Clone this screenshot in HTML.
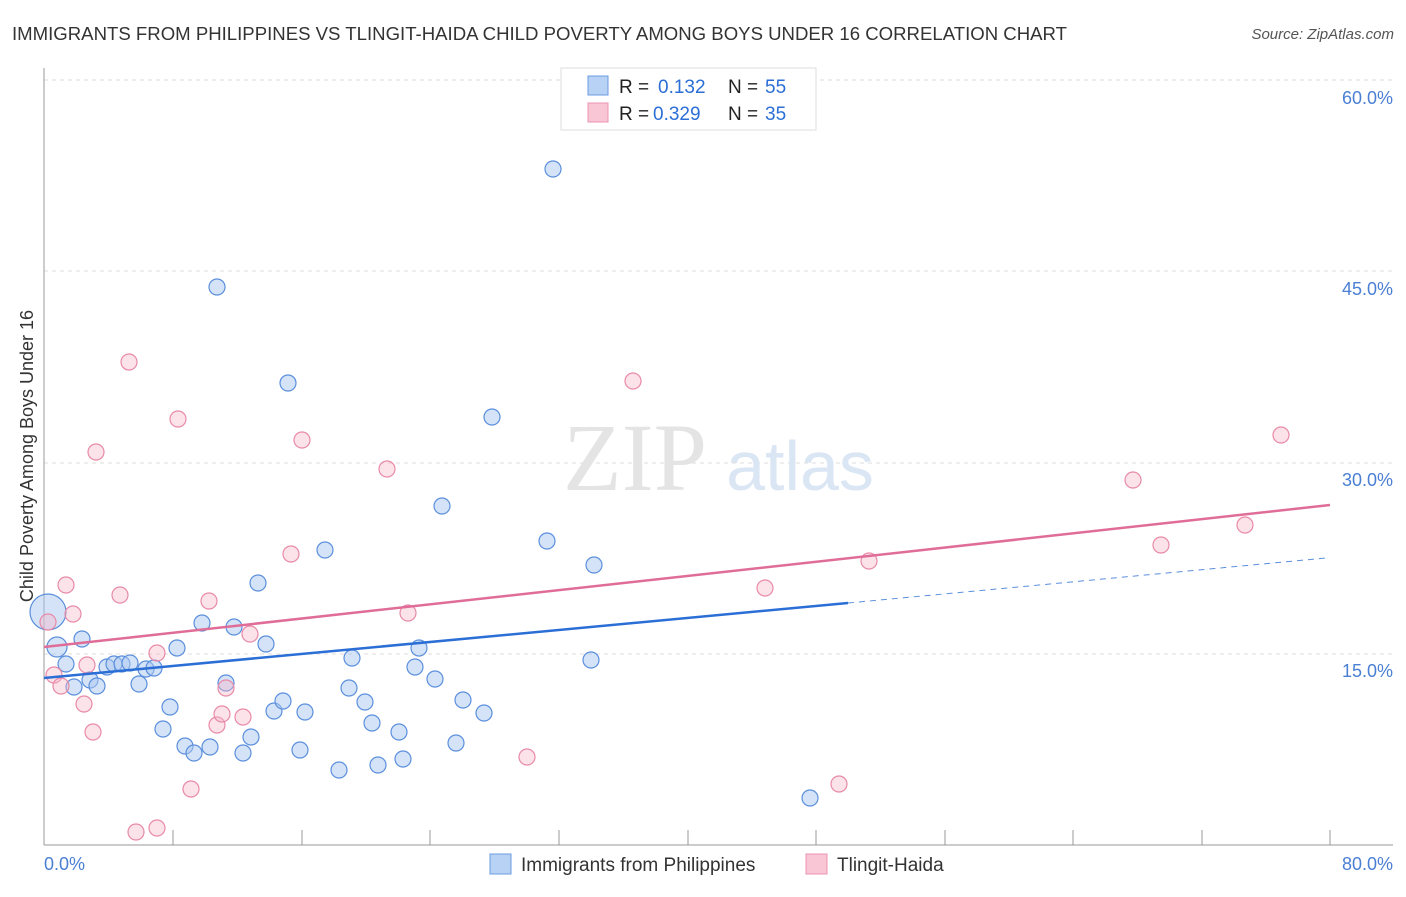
<!DOCTYPE html>
<html><head><meta charset="utf-8"><style>
body{margin:0;background:#fff;font-family:"Liberation Sans",sans-serif;}
</style></head><body>
<svg width="1406" height="892" xmlns="http://www.w3.org/2000/svg" font-family="Liberation Sans, sans-serif">
<text x="12" y="40" font-size="18" fill="#333" textLength="1055" lengthAdjust="spacingAndGlyphs">IMMIGRANTS FROM PHILIPPINES VS TLINGIT-HAIDA CHILD POVERTY AMONG BOYS UNDER 16 CORRELATION CHART</text>
<text x="1394" y="39" font-size="15" fill="#555" text-anchor="end" font-style="italic">Source: ZipAtlas.com</text>
<g stroke="#ddd" stroke-dasharray="4,4">
<line x1="44" y1="80" x2="1393" y2="80"/><line x1="44" y1="271" x2="1393" y2="271"/>
<line x1="44" y1="463" x2="1393" y2="463"/><line x1="44" y1="654" x2="1393" y2="654"/>
</g>
<line x1="44" y1="68" x2="44" y2="845" stroke="#999"/>
<line x1="44" y1="845" x2="1393" y2="845" stroke="#999"/>
<g stroke="#999">
<line x1="173" y1="830" x2="173" y2="845"/><line x1="302" y1="830" x2="302" y2="845"/><line x1="430" y1="830" x2="430" y2="845"/><line x1="559" y1="830" x2="559" y2="845"/><line x1="688" y1="830" x2="688" y2="845"/><line x1="816" y1="830" x2="816" y2="845"/><line x1="945" y1="830" x2="945" y2="845"/><line x1="1073" y1="830" x2="1073" y2="845"/><line x1="1202" y1="830" x2="1202" y2="845"/><line x1="1330" y1="830" x2="1330" y2="845"/>
</g>
<g font-size="18" fill="#4a7fd4" text-anchor="end">
<text x="1393" y="104">60.0%</text><text x="1393" y="295">45.0%</text><text x="1393" y="486">30.0%</text><text x="1393" y="677">15.0%</text>
<text x="1393" y="870">80.0%</text></g>
<text x="44" y="870" font-size="18" fill="#4a7fd4">0.0%</text>
<text transform="translate(33,456) rotate(-90)" font-size="18" fill="#333" text-anchor="middle">Child Poverty Among Boys Under 16</text>
<text x="635" y="490" font-size="96" fill="#e4e4e4" font-family="Liberation Serif, serif" text-anchor="middle">ZIP</text>
<text x="800" y="490" font-size="70" fill="#dbe6f5" text-anchor="middle">atlas</text>
<g fill="#a9c8f0" fill-opacity="0.5" stroke="#5b8fdc" stroke-width="1.2">
<circle cx="48" cy="612" r="18"/>
<circle cx="57" cy="647" r="10"/><circle cx="66" cy="664" r="8"/><circle cx="74" cy="687" r="8"/><circle cx="82" cy="639" r="8"/><circle cx="90" cy="680" r="8"/><circle cx="97" cy="686" r="8"/><circle cx="107" cy="667" r="8"/><circle cx="114" cy="664" r="8"/><circle cx="122" cy="664" r="8"/><circle cx="130" cy="663" r="8"/><circle cx="139" cy="684" r="8"/><circle cx="146" cy="669" r="8"/><circle cx="154" cy="668" r="8"/><circle cx="170" cy="707" r="8"/><circle cx="163" cy="729" r="8"/><circle cx="177" cy="648" r="8"/><circle cx="185" cy="746" r="8"/><circle cx="194" cy="753" r="8"/><circle cx="202" cy="623" r="8"/><circle cx="210" cy="747" r="8"/><circle cx="217" cy="287" r="8"/><circle cx="226" cy="683" r="8"/><circle cx="234" cy="627" r="8"/><circle cx="243" cy="753" r="8"/><circle cx="251" cy="737" r="8"/><circle cx="258" cy="583" r="8"/><circle cx="266" cy="644" r="8"/><circle cx="274" cy="711" r="8"/><circle cx="283" cy="701" r="8"/><circle cx="288" cy="383" r="8"/><circle cx="300" cy="750" r="8"/><circle cx="305" cy="712" r="8"/><circle cx="325" cy="550" r="8"/><circle cx="339" cy="770" r="8"/><circle cx="349" cy="688" r="8"/><circle cx="352" cy="658" r="8"/><circle cx="365" cy="702" r="8"/><circle cx="372" cy="723" r="8"/><circle cx="378" cy="765" r="8"/><circle cx="399" cy="732" r="8"/><circle cx="403" cy="759" r="8"/><circle cx="415" cy="667" r="8"/><circle cx="419" cy="648" r="8"/><circle cx="435" cy="679" r="8"/><circle cx="442" cy="506" r="8"/><circle cx="456" cy="743" r="8"/><circle cx="463" cy="700" r="8"/><circle cx="484" cy="713" r="8"/><circle cx="492" cy="417" r="8"/><circle cx="547" cy="541" r="8"/><circle cx="553" cy="169" r="8"/><circle cx="591" cy="660" r="8"/><circle cx="594" cy="565" r="8"/><circle cx="810" cy="798" r="8"/>
</g>
<g fill="#f7b6c8" fill-opacity="0.4" stroke="#e88aa8" stroke-width="1.2">
<circle cx="48" cy="622" r="8"/><circle cx="54" cy="675" r="8"/><circle cx="61" cy="686" r="8"/><circle cx="66" cy="585" r="8"/><circle cx="73" cy="614" r="8"/><circle cx="84" cy="704" r="8"/><circle cx="87" cy="665" r="8"/><circle cx="93" cy="732" r="8"/><circle cx="96" cy="452" r="8"/><circle cx="120" cy="595" r="8"/><circle cx="129" cy="362" r="8"/><circle cx="136" cy="832" r="8"/><circle cx="157" cy="828" r="8"/><circle cx="157" cy="653" r="8"/><circle cx="178" cy="419" r="8"/><circle cx="191" cy="789" r="8"/><circle cx="209" cy="601" r="8"/><circle cx="217" cy="725" r="8"/><circle cx="222" cy="714" r="8"/><circle cx="226" cy="688" r="8"/><circle cx="243" cy="717" r="8"/><circle cx="250" cy="634" r="8"/><circle cx="291" cy="554" r="8"/><circle cx="302" cy="440" r="8"/><circle cx="387" cy="469" r="8"/><circle cx="408" cy="613" r="8"/><circle cx="527" cy="757" r="8"/><circle cx="633" cy="381" r="8"/><circle cx="765" cy="588" r="8"/><circle cx="839" cy="784" r="8"/><circle cx="869" cy="561" r="8"/><circle cx="1133" cy="480" r="8"/><circle cx="1161" cy="545" r="8"/><circle cx="1245" cy="525" r="8"/><circle cx="1281" cy="435" r="8"/>
</g>
<line x1="44" y1="678" x2="848" y2="603" stroke="#2b6fd6" stroke-width="2.5"/>
<line x1="848" y1="603" x2="1326" y2="558" stroke="#5b8fdc" stroke-width="1" stroke-dasharray="6,5"/>
<line x1="44" y1="647" x2="1330" y2="505" stroke="#e06d97" stroke-width="2.5"/>
<rect x="561" y="68" width="255" height="62" fill="#fff" stroke="#ddd"/>
<rect x="588" y="76" width="20" height="19" fill="#b7d2f5" stroke="#6b9be0"/>
<rect x="588" y="103" width="20" height="19" fill="#f9c6d5" stroke="#ec94b0"/>
<g font-size="19">
<text x="619" y="93" fill="#222">R = </text><text x="658" y="93" fill="#2b6fd6">0.132</text>
<text x="728" y="93" fill="#222">N = </text><text x="765" y="93" fill="#2b6fd6">55</text>
<text x="619" y="120" fill="#222">R = </text><text x="653" y="120" fill="#2b6fd6">0.329</text>
<text x="728" y="120" fill="#222">N = </text><text x="765" y="120" fill="#2b6fd6">35</text>
</g>
<rect x="490" y="854" width="21" height="20" fill="#b7d2f5" stroke="#6b9be0"/>
<text x="521" y="871" font-size="19" fill="#333">Immigrants from Philippines</text>
<rect x="806" y="854" width="21" height="20" fill="#f9c6d5" stroke="#ec94b0"/>
<text x="837" y="871" font-size="19" fill="#333">Tlingit-Haida</text>
</svg>
</body></html>
